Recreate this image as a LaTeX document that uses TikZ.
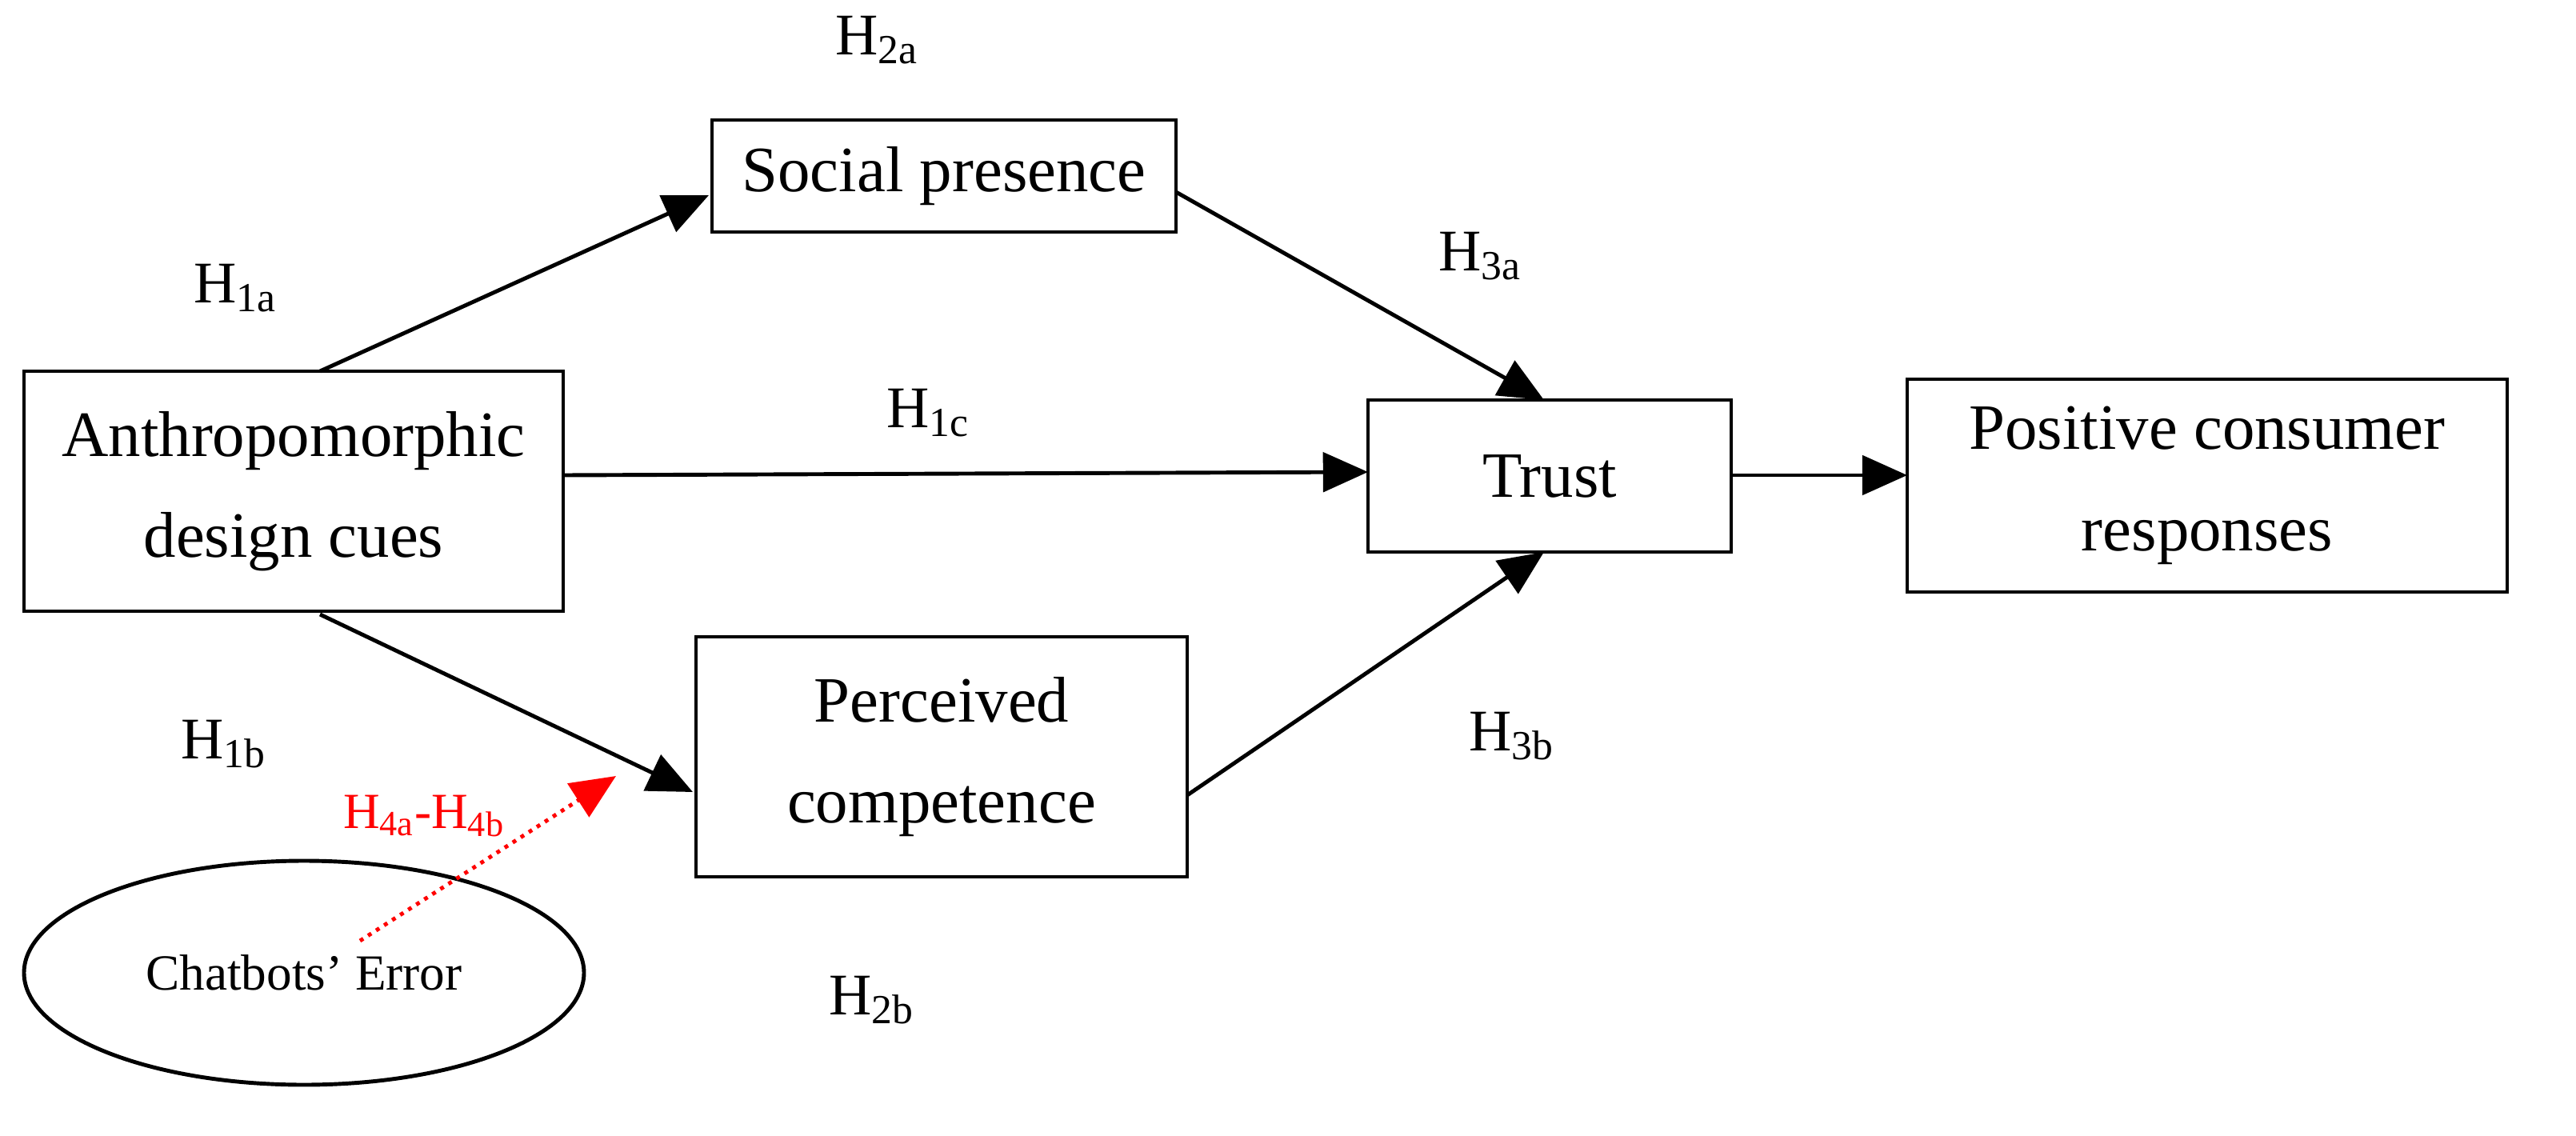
\documentclass[tikz,border=0pt]{standalone}
\usepackage{fontspec}
\setmainfont{Liberation Serif}
\usetikzlibrary{arrows.meta,shapes.geometric}
\begin{document}
\begin{tikzpicture}[x=0.02cm,y=-0.02cm,
  box/.style={draw,line width=1.4pt,minimum width=#1,inner sep=0pt,align=center,font=\fontsize{23}{36}\selectfont},
  lab/.style={font=\fontsize{21}{26}\selectfont},
  arr/.style={-{Triangle[length=16pt,width=14pt]},line width=1.4pt}]
\useasboundingbox (0,0) rectangle (1610,710);
\node[box=337*0.02cm,minimum height=150*0.02cm] (A) at (183.5,307) {Anthropomorphic\\design cues};
\node[box=290*0.02cm,minimum height=70*0.02cm] (S) at (590,110) {Social presence};
\node[box=227*0.02cm,minimum height=95*0.02cm] (T) at (968.5,297.5) {Trust};
\node[box=375*0.02cm,minimum height=133*0.02cm] (P) at (1379.5,303.5) {Positive consumer\\responses};
\node[box=307*0.02cm,minimum height=150*0.02cm] (C) at (588.5,473) {Perceived\\competence};
\node[draw,line width=1.4pt,ellipse,inner sep=0pt,minimum width=350*0.02cm,minimum height=140*0.02cm,font=\fontsize{18}{22}\selectfont] (E) at (190,608) {Chatbots' Error};
\coordinate (a1) at (200,232); \coordinate (s1) at (443,122);
\coordinate (s2) at (735,120); \coordinate (t1) at (965,250);
\coordinate (a2) at (352,297); \coordinate (t2) at (855,295);
\coordinate (a3) at (200,384); \coordinate (c1) at (433,495);
\coordinate (c2) at (742,497); \coordinate (t3) at (965,345);
\coordinate (t4) at (1082,297); \coordinate (p1) at (1192,297);
\coordinate (e1) at (225,588); \coordinate (r1) at (385,485);
\draw[arr] (a1) -- (s1);
\draw[arr] (s2) -- (t1);
\draw[arr] (a2) -- (t2);
\draw[arr] (a3) -- (c1);
\draw[arr] (c2) -- (t3);
\draw[arr] (t4) -- (p1);
\draw[red,dotted,line width=1.4pt,-{Triangle[length=16pt,width=14pt]}] (e1) -- (r1);
\node[lab] at (548,25) {H\textsubscript{2a}};
\node[lab] at (147,180) {H\textsubscript{1a}};
\node[lab] at (925,160) {H\textsubscript{3a}};
\node[lab] at (580,258) {H\textsubscript{1c}};
\node[lab] at (140,465) {H\textsubscript{1b}};
\node[lab] at (945,460) {H\textsubscript{3b}};
\node[lab,text=red,font=\fontsize{18}{22}\selectfont] at (265,510) {H\textsubscript{4a}-H\textsubscript{4b}};
\node[lab] at (545,625) {H\textsubscript{2b}};
\end{tikzpicture}
\end{document}
